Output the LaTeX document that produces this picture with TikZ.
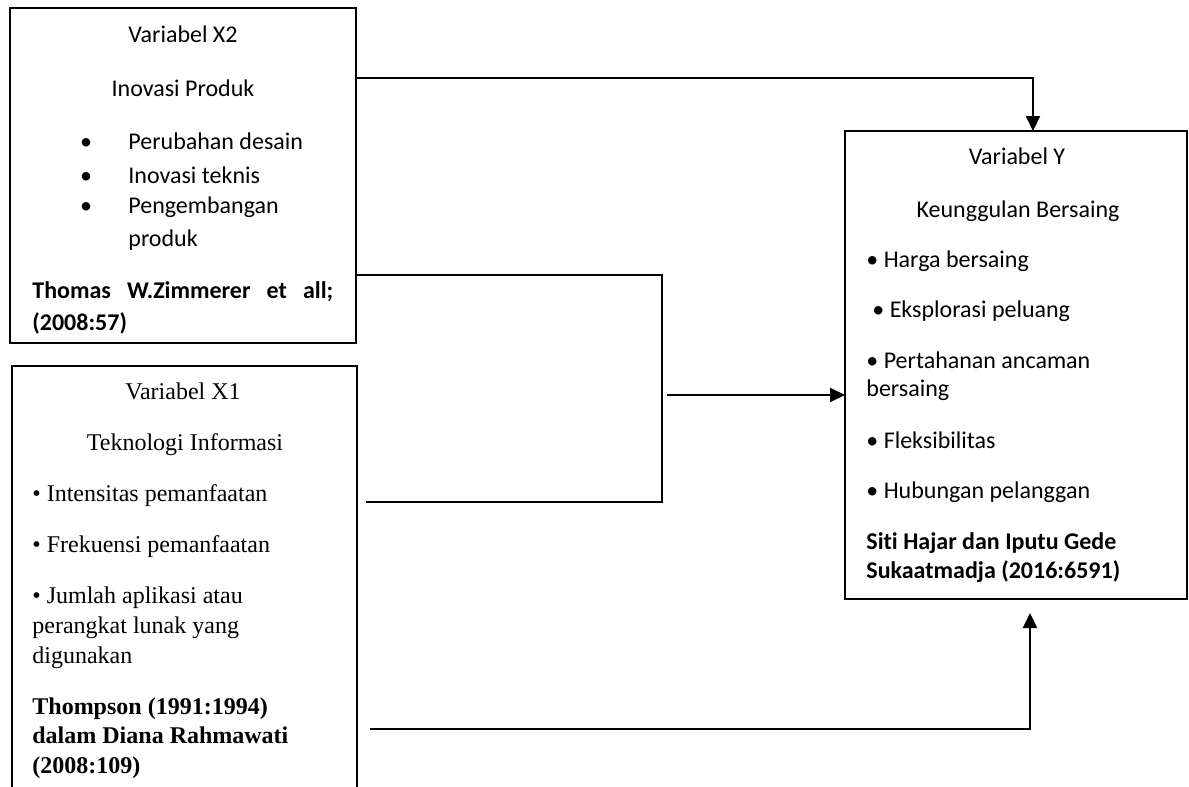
\documentclass[tikz,border=0pt]{standalone}
\usepackage{fontspec}
\setmainfont{Carlito}[Ligatures=NoCommon]
\newfontfamily\timesfont{Liberation Serif}
\usetikzlibrary{arrows.meta}

\begin{document}
\begin{tikzpicture}[
  x=0.5pt, y=-0.5pt,
  varbox/.style={draw, line width=1pt, inner sep=0pt, outer sep=0pt},
  txt/.style={inner sep=0pt, anchor=base west, font=\fontsize{12}{15}\selectfont},
  ctxt/.style={txt, anchor=base},
  bftxt/.style={txt, font=\fontsize{12}{15}\selectfont\bfseries},
  tmtxt/.style={txt, font=\fontsize{12}{15}\selectfont\timesfont},
  link/.style={line width=0.6pt},
  arr/.style={line width=1pt, -{Triangle[length=7.5pt, width=7pt]}}
]
\useasboundingbox (0,0) rectangle (1189,787);
\clip (0,0) rectangle (1189,787);

% boxes
\node[varbox, minimum width=173pt, minimum height=167.5pt] (x2) at (183,175.5) {};
\node[varbox, minimum width=172.5pt, minimum height=217pt] (x1) at (184.5,583) {};
\node[varbox, minimum width=171pt, minimum height=234pt] (y) at (1016,365) {};

% Variabel X2
\node[ctxt] (x2var) at (183,42) {Variabel X2};
\node[ctxt] (x2name) at (183,96) {Inovasi Produk};
\foreach \yy/\lbl [count=\i] in {149/Perubahan desain, 183/Inovasi teknis, 213/Pengembangan}{
  \node[ctxt] (x2dot\i) at (86,\yy) {•};
  \node[txt] (x2ind\i) at (128,\yy) {\lbl};
}
\node[txt] (x2ind4) at (128,246) {produk};
\node[bftxt] (x2ref1) at (32,298) {\makebox[150.5pt][s]{Thomas W.Zimmerer et all;}};
\node[bftxt] (x2ref2) at (32,330) {(2008:57)};

% Variabel X1
\node[tmtxt, anchor=base] (x1var) at (183,399) {Variabel X1};
\node[tmtxt, anchor=base] (x1name) at (185,450) {Teknologi Informasi};
\foreach \yy/\lbl [count=\i] in {501/• Intensitas pemanfaatan, 552/• Frekuensi pemanfaatan,
    603/• Jumlah aplikasi atau, 633/perangkat lunak yang, 663/digunakan}
  \node[tmtxt] (x1ind\i) at (32,\yy) {\lbl};
\foreach \yy/\lbl [count=\i] in {714/Thompson (1991:1994), 743/dalam Diana Rahmawati, 773/(2008:109)}
  \node[tmtxt, font=\fontsize{12}{15}\selectfont\timesfont\bfseries] (x1ref\i) at (32,\yy) {\lbl};

% Variabel Y
\node[ctxt] (yvar) at (1017,164) {Variabel Y};
\node[ctxt] (yname) at (1018,217) {Keunggulan Bersaing};
\foreach \yy/\lbl [count=\i] in {267/• Harga bersaing, 368/• Pertahanan ancaman, 396/bersaing,
    448/• Fleksibilitas, 498/• Hubungan pelanggan}
  \node[txt] (yind\i) at (866,\yy) {\lbl};
\node[txt] (yind6) at (872,317) {• Eksplorasi peluang};
\node[bftxt] (yref1) at (866,549) {Siti Hajar dan Iputu Gede};
\node[bftxt] (yref2) at (866,578) {Sukaatmadja (2016:6591)};

% connectors
\coordinate (topbend) at (1033,78);
\draw[arr] (x2.east |- topbend) -- (topbend) -- (topbend |- y.north);

\coordinate (brtop) at (662,275);
\coordinate (brbot) at (662,502);
\coordinate (brend) at (366,502);
\draw[link] (x2.east |- brtop) -- (brtop) -- (brbot) -- (brend);

\coordinate (brmid) at (667,395);
\draw[arr] (brmid) -- (y.west |- brmid);

\coordinate (botstart) at (370,729);
\coordinate (botbend) at (1030,729);
\coordinate (bottip) at (1030,613);
\draw[arr] (botstart) -- (botbend) -- (bottip);
\end{tikzpicture}
\end{document}
